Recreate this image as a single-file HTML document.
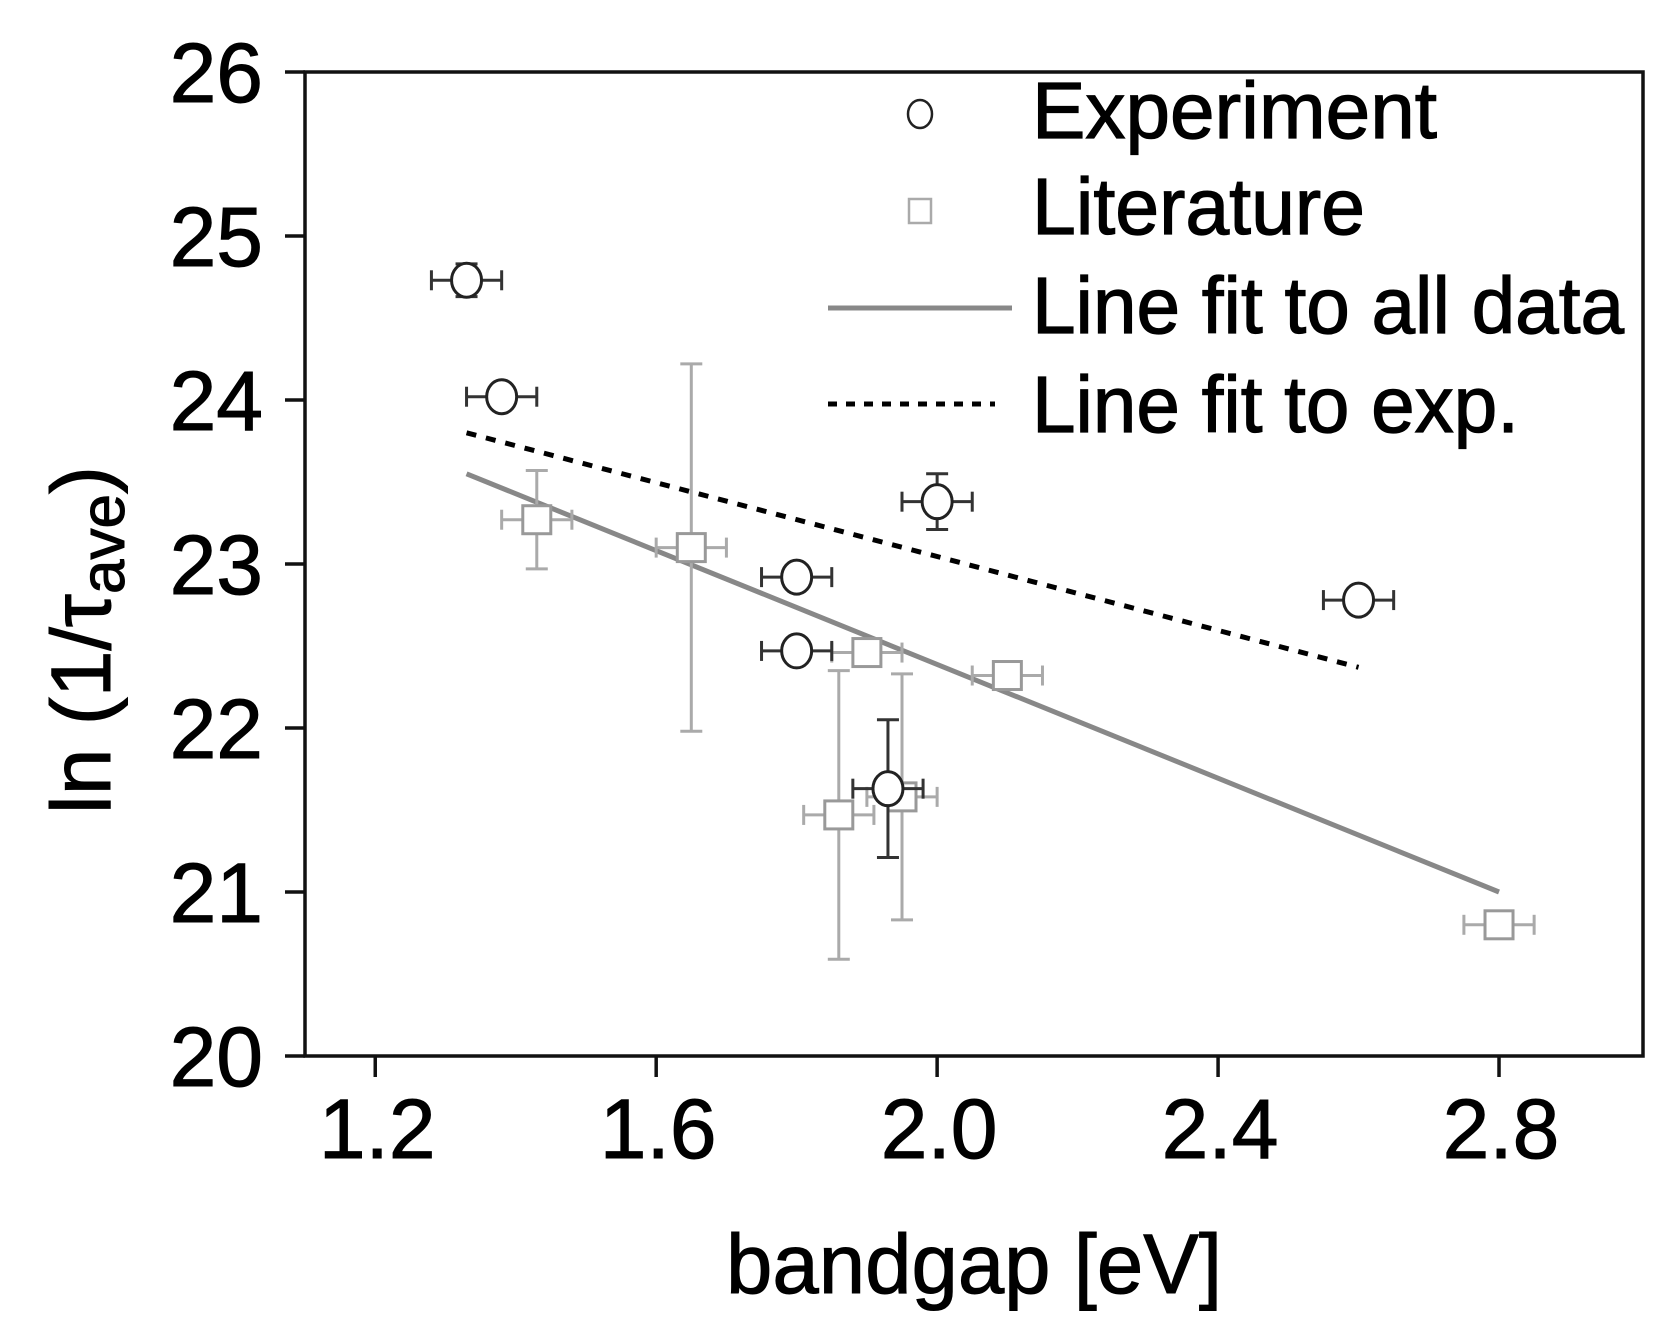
<!DOCTYPE html>
<html><head><meta charset="utf-8"><style>
html,body{margin:0;padding:0;background:#fff}
svg{display:block;font-family:"Liberation Sans",Arial,sans-serif}
</style></head><body>
<svg id="chart" width="1659" height="1337" viewBox="0 0 1659 1337">
<g id="axes"></g>
<g id="fits"></g>
<g id="marks"></g>
<g id="legend" stroke="#000" stroke-width="0">
  <ellipse cx="920" cy="114" rx="12" ry="14" fill="#fff" stroke="#222" stroke-width="2.5"/>
  <text x="1032" y="138" font-size="80" stroke-width="1.2" textLength="405" lengthAdjust="spacingAndGlyphs">Experiment</text>
  <rect x="909" y="199" width="22" height="24" fill="#fff" stroke="#aaa" stroke-width="2.5"/>
  <text x="1032" y="234" font-size="80" stroke-width="1.2" textLength="333" lengthAdjust="spacingAndGlyphs">Literature</text>
  <line x1="828" y1="308" x2="1012" y2="308" stroke="#888" stroke-width="5"/>
  <text x="1032" y="333" font-size="80" stroke-width="1.2" textLength="592" lengthAdjust="spacingAndGlyphs">Line fit to all data</text>
  <line x1="828" y1="404" x2="995" y2="404" stroke="#000" stroke-width="5" stroke-dasharray="9,9"/>
  <text x="1032" y="432" font-size="80" stroke-width="1.2" textLength="487" lengthAdjust="spacingAndGlyphs">Line fit to exp.</text>
</g>
<text x="974" y="1293" font-size="84" stroke="#000" stroke-width="1" text-anchor="middle" textLength="496" lengthAdjust="spacingAndGlyphs">bandgap [eV]</text>
<text transform="translate(110,640) rotate(-90)" font-size="84" stroke="#000" stroke-width="1" text-anchor="middle">ln (1/τ<tspan font-size="62" dy="14">ave</tspan><tspan dy="-14">)</tspan></text>
</svg>
<script>
const xTicks = [1.2, 1.6, 2.0, 2.4, 2.8];
const xTickLabels = ["1.2", "1.6", "2.0", "2.4", "2.8"];
const yTicks = [20, 21, 22, 23, 24, 25, 26];
const yTickLabels = ["20", "21", "22", "23", "24", "25", "26"];
const expX = [1.33, 1.38, 2.0, 1.8, 1.8, 1.93, 2.6];
const expY = [24.73, 24.02, 23.38, 22.92, 22.47, 21.63, 22.78];
const expXErr = [0.05, 0.05, 0.05, 0.05, 0.05, 0.05, 0.05];
const expYErr = [0.1, 0.05, 0.17, 0.05, 0.05, 0.42, 0.05];
const litX = [1.43, 1.65, 1.9, 2.1, 1.86, 1.95, 2.8];
const litY = [23.27, 23.1, 22.46, 22.32, 21.47, 21.58, 20.8];
const litXErr = [0.05, 0.05, 0.05, 0.05, 0.05, 0.05, 0.05];
const litYErr = [0.3, 1.12, 0.03, 0.03, 0.88, 0.75, 0.03];
const fitAllX = [1.33, 2.8];
const fitAllY = [23.55, 21.0];
const fitExpX = [1.33, 2.6];
const fitExpY = [23.8, 22.37];

const L = 305, R = 1643, T = 72, B = 1056;
const X0 = 1.1, X1 = 3.005, Y0 = 20, Y1 = 26;
const sx = v => L + (v - X0) / (X1 - X0) * (R - L);
const sy = v => B - (v - Y0) / (Y1 - Y0) * (B - T);
const NS = "http://www.w3.org/2000/svg";
function mk(parent, tag, attrs) {
  const e = document.createElementNS(NS, tag);
  for (const k in attrs) e.setAttribute(k, attrs[k]);
  parent.appendChild(e);
  return e;
}
const axes = document.getElementById('axes');
const frame = mk(axes, 'rect', {x: L, y: T, width: R - L, height: B - T, fill: 'none', stroke: '#111', 'stroke-width': 3.5});


xTicks.forEach((v, i) => {
  const t = mk(axes, 'line', {x1: sx(v), x2: sx(v), y1: B, y2: B + 21, stroke: '#111', 'stroke-width': 3.5});
  
  
  const lb = mk(axes, 'text', {x: sx(v) + 2, y: 1158, 'font-size': 84, 'text-anchor': 'middle', stroke: '#000', 'stroke-width': 1});
  lb.textContent = xTickLabels[i];
  
  
});
yTicks.forEach((v, i) => {
  const t = mk(axes, 'line', {x1: L - 20, x2: L, y1: sy(v), y2: sy(v), stroke: '#111', 'stroke-width': 3.5});
  
  
  const lb = mk(axes, 'text', {x: 263, y: sy(v) + 30, 'font-size': 84, 'text-anchor': 'end', stroke: '#000', 'stroke-width': 1});
  lb.textContent = yTickLabels[i];
  
  
});
const fits = document.getElementById('fits');
const fa = mk(fits, 'line', {x1: sx(fitAllX[0]), y1: sy(fitAllY[0]), x2: sx(fitAllX[1]), y2: sy(fitAllY[1]), stroke: '#888', 'stroke-width': 5});


const fe = mk(fits, 'line', {x1: sx(fitExpX[0]), y1: sy(fitExpY[0]), x2: sx(fitExpX[1]), y2: sy(fitExpY[1]), stroke: '#000', 'stroke-width': 5, 'stroke-dasharray': '10,10'});



const marks = document.getElementById('marks');
function errBars(x, y, xe, ye, col) {
  const g = mk(marks, 'g', {stroke: col, 'stroke-width': 3, fill: 'none'});
  
  
  const cx = sx(x), cy = sy(y), x1 = sx(x - xe), x2 = sx(x + xe), y1 = sy(y + ye), y2 = sy(y - ye);
  mk(g, 'line', {x1: x1, x2: x2, y1: cy, y2: cy});
  mk(g, 'line', {x1: x1, x2: x1, y1: cy - 10, y2: cy + 10});
  mk(g, 'line', {x1: x2, x2: x2, y1: cy - 10, y2: cy + 10});
  mk(g, 'line', {x1: cx, x2: cx, y1: y1, y2: y2});
  mk(g, 'line', {x1: cx - 11, x2: cx + 11, y1: y1, y2: y1});
  mk(g, 'line', {x1: cx - 11, x2: cx + 11, y1: y2, y2: y2});
}
litX.forEach((x, i) => {
  errBars(x, litY[i], litXErr[i], litYErr[i], '#aaa');
  const r = mk(marks, 'rect', {x: sx(x) - 14, y: sy(litY[i]) - 14, width: 28, height: 28, fill: '#fff', stroke: '#999', 'stroke-width': 3});
  
  
});
expX.forEach((x, i) => {
  errBars(x, expY[i], expXErr[i], expYErr[i], '#333');
  const c = mk(marks, 'ellipse', {cx: sx(x), cy: sy(expY[i]), rx: 15, ry: 17, fill: '#fff', stroke: '#222', 'stroke-width': 3});
  
  
});
</script>
</body></html>
